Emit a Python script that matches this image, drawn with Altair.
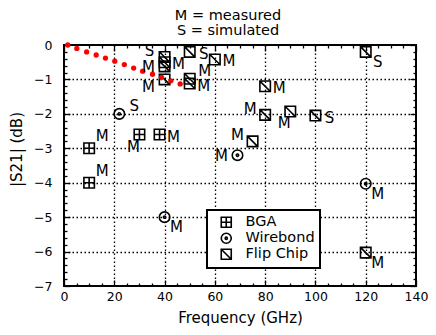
import altair as alt
import pandas as pd

# ---------------- data ----------------
series_names = ["BGA", "Wirebond", "Flip Chip"]

bga_freq = [10, 10, 30, 38]
bga_db = [-3.0, -4.0, -2.6, -2.6]
bga_lab = ["M", "M", "M", "M"]
bga_pos = ["ne", "ne", "sw", "e"]

wb_freq = [22, 40, 69, 120]
wb_db = [-2.0, -5.0, -3.2, -4.03]
wb_lab = ["S", "M", "M", "M"]
wb_pos = ["ene", "se", "w", "se"]

fc_freq = [40, 40, 40, 40, 50, 60, 50, 50, 80, 80, 90, 100, 75, 120, 120]
fc_db = [-0.35, -0.5, -0.62, -1.0, -0.2, -0.42, -0.98, -1.12, -1.2, -2.03, -1.93, -2.05, -2.8, -0.2, -6.03]
fc_lab = ["S", "M", "M", "M", "S", "M", "M", "M", "M", "M", "M", "S", "M", "S", "M"]
fc_pos = ["nw", "e", "w", "wsw", "e", "e", "ene", "e", "e", "nw", "sw", "e", "nw", "se", "se"]

sim_freq = [1.5, 5.1, 9.0, 12.8, 16.5, 20.2, 24.0, 27.7, 31.3, 35.2, 38.8, 42.5, 46.2]
sim_db = [0.0, -0.1, -0.2, -0.29, -0.38, -0.47, -0.57, -0.67, -0.76, -0.85, -0.94, -1.04, -1.13]

x_ticks = list(range(0, 141, 5))
y_ticks = [round(-7 + 0.2 * i, 1) for i in range(36)]

# ---------------- tables ----------------
rows = []
for name, fr, db, lab, pos in [
    ("BGA", bga_freq, bga_db, bga_lab, bga_pos),
    ("Wirebond", wb_freq, wb_db, wb_lab, wb_pos),
    ("Flip Chip", fc_freq, fc_db, fc_lab, fc_pos),
]:
    for f, d, l, p in zip(fr, db, lab, pos):
        rows.append(dict(series=name, freq=f, db=d, label=l, pos=p))
df = pd.DataFrame(rows)
sim = pd.DataFrame({"freq": sim_freq, "db": sim_db})

FONT = "DejaVu Sans"
shape_paths = [
    "M-1,-1H1V1H-1Z M0,-1V1 M-1,0H1",
    "M1,0A1,1 0 1,1 -1,0A1,1 0 1,1 1,0Z M0.22,0A0.22,0.22 0 1,1 -0.22,0A0.22,0.22 0 1,1 0.22,0Z",
    "M-1,-1H1V1H-1Z M-1,-1L1,1",
]

x_scale = alt.Scale(domain=[0, 140], nice=False, zero=False)
y_scale = alt.Scale(domain=[-7, 0], nice=False, zero=False)

mx = "datum.value % 20 === 0"
my = "abs(datum.value - round(datum.value)) < 0.001"

common_axis = dict(
    labelOverlap=False, labelFlush=False, tickColor="black", tickWidth=1.3,
    domain=False, labelFont=FONT, labelFontSize=12.5, labelColor="black",
    titleFont=FONT, titleFontSize=15, titleFontWeight="normal", titleColor="black",
)

x_axis_bottom = alt.Axis(
    orient="bottom", values=x_ticks, title="Frequency (GHz)",
    labelExpr=f"{mx} ? format(datum.value, 'd') : ''",
    tickSize={"expr": f"{mx} ? -6 : -3"},
    labelPadding=10, titlePadding=5,
    grid=True, gridColor="black", gridDash=[1.5, 2.5], gridWidth=1.3,
    gridOpacity={"condition": {"test": f"{mx} && datum.value > 0 && datum.value < 140", "value": 1}, "value": 0},
    **common_axis,
)
y_axis_left = alt.Axis(
    orient="left", values=y_ticks, title="|S21| (dB)",
    labelExpr=f"{my} ? format(datum.value, 'd') : ''",
    tickSize={"expr": f"{my} ? -6 : -3"},
    labelPadding=18, titleX=-40, titleY=104,
    grid=True, gridColor="black", gridDash=[1.5, 2.5], gridWidth=1.3,
    gridOpacity={"condition": {"test": f"{my} && datum.value > -7 && datum.value < 0", "value": 1}, "value": 0},
    **common_axis,
)
x_axis_top = alt.Axis(
    orient="top", values=x_ticks, title=None, labels=False, grid=False,
    tickSize={"expr": f"{mx} ? -6 : -3"}, tickColor="black", tickWidth=1.3, domain=False,
)
y_axis_right = alt.Axis(
    orient="right", values=y_ticks, title=None, labels=False, grid=False,
    tickSize={"expr": f"{my} ? -6 : -3"}, tickColor="black", tickWidth=1.3, domain=False,
)

points = alt.Chart(df).mark_point(filled=False, size=110, strokeWidth=1.6, color="black", opacity=1).encode(
    x=alt.X("freq:Q", scale=x_scale, axis=x_axis_bottom),
    y=alt.Y("db:Q", scale=y_scale, axis=y_axis_left),
    shape=alt.Shape(
        "series:N",
        scale=alt.Scale(domain=series_names, range=shape_paths),
        legend=alt.Legend(
            title=None, orient="none", legendX=143, legendY=165,
            fillColor="white", strokeColor="black", padding=5,
            labelFont=FONT, labelFontSize=14.5, labelColor="black", labelOffset=12,
            symbolSize=100, symbolStrokeColor="black", symbolFillColor="white",
            symbolStrokeWidth=1.6, symbolOffset=7,
        ),
    ),
)

sim_layer = alt.Chart(sim).mark_circle(color="#ff0000", size=28, opacity=1).encode(
    x=alt.X("freq:Q", scale=x_scale, axis=x_axis_top),
    y=alt.Y("db:Q", scale=y_scale, axis=y_axis_right),
)

offsets = {
    "e": (14, 2), "ne": (13, -12), "ene": (15, -8), "se": (12, 10),
    "nw": (-15, -6), "w": (-16, 1), "sw": (-6, 12), "wsw": (-16, 8),
}
label_layers = []
for code, (ddx, ddy) in offsets.items():
    label_layers.append(
        alt.Chart(df).transform_filter(alt.datum.pos == code)
        .mark_text(dx=ddx, dy=ddy, font=FONT, fontSize=15, color="black", align="center", baseline="middle")
        .encode(
            x=alt.X("freq:Q", scale=x_scale, axis=None),
            y=alt.Y("db:Q", scale=y_scale, axis=None),
            text="label:N",
        )
    )

chart = alt.layer(points, sim_layer, *label_layers).resolve_axis(
    x="independent", y="independent"
).properties(
    width=352, height=241,
    padding={"left": 56, "top": 37, "right": 12, "bottom": 41},
    autosize=alt.AutoSizeParams(type="none"),
    background="white",
    title=alt.TitleParams(
        ["M = measured", "S = simulated"], font=FONT, fontSize=14.5, fontWeight="normal",
        color="black", anchor="middle", dx=-12, offset=1, lineHeight=15,
    ),
).configure_view(stroke="black", strokeWidth=2).configure_legend(strokeWidth=2, rowPadding=-5)

chart.save("out.html", embed_options={"renderer": "svg", "actions": False})
